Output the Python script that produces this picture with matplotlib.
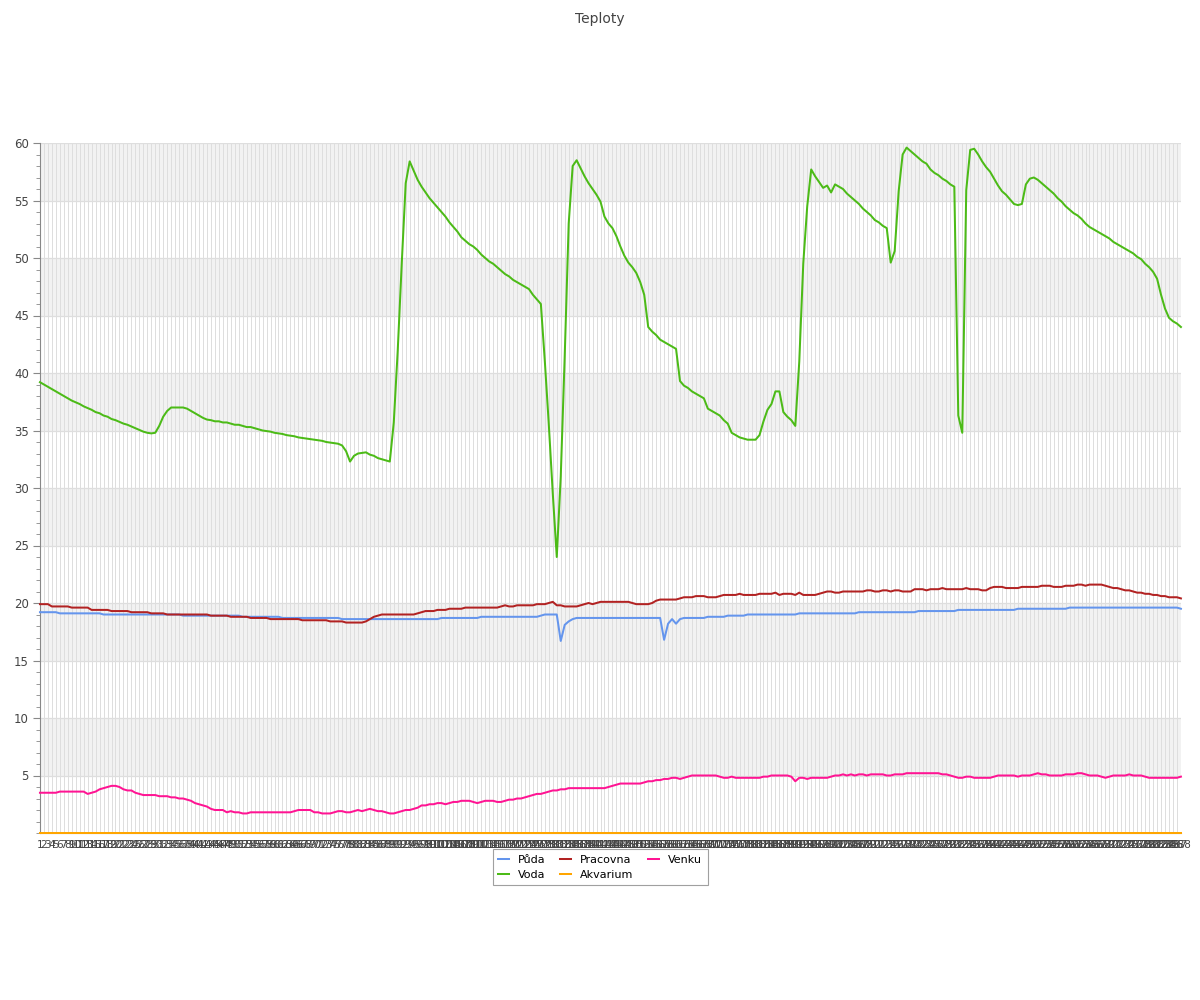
import matplotlib
matplotlib.use("Agg")
import matplotlib.pyplot as plt
from matplotlib.ticker import MultipleLocator

title = "Teploty"
x_labels = [str(n) for n in range(1, 289)]

puda = [
    19.2, 19.2, 19.2, 19.2, 19.2, 19.1, 19.1, 19.1, 19.1, 19.1,
    19.1, 19.1, 19.1, 19.1, 19.1, 19.1, 19.0, 19.0, 19.0, 19.0,
    19.0, 19.0, 19.0, 19.0, 19.0, 19.0, 19.0, 19.0, 19.0, 19.0,
    19.0, 19.0, 19.0, 19.0, 19.0, 19.0, 18.9, 18.9, 18.9, 18.9,
    18.9, 18.9, 18.9, 18.9, 18.9, 18.9, 18.9, 18.9, 18.9, 18.9,
    18.9, 18.8, 18.8, 18.8, 18.8, 18.8, 18.8, 18.8, 18.8, 18.8,
    18.8, 18.7, 18.7, 18.7, 18.7, 18.7, 18.7, 18.7, 18.7, 18.7,
    18.7, 18.7, 18.7, 18.7, 18.7, 18.7, 18.6, 18.6, 18.6, 18.6,
    18.6, 18.6, 18.6, 18.6, 18.6, 18.6, 18.6, 18.6, 18.6, 18.6,
    18.6, 18.6, 18.6, 18.6, 18.6, 18.6, 18.6, 18.6, 18.6, 18.6,
    18.6, 18.7, 18.7, 18.7, 18.7, 18.7, 18.7, 18.7, 18.7, 18.7,
    18.7, 18.8, 18.8, 18.8, 18.8, 18.8, 18.8, 18.8, 18.8, 18.8,
    18.8, 18.8, 18.8, 18.8, 18.8, 18.8, 18.9, 19.0, 19.0, 19.0,
    19.0, 16.7, 18.1, 18.4, 18.6, 18.7, 18.7, 18.7, 18.7, 18.7,
    18.7, 18.7, 18.7, 18.7, 18.7, 18.7, 18.7, 18.7, 18.7, 18.7,
    18.7, 18.7, 18.7, 18.7, 18.7, 18.7, 18.7, 16.8, 18.2, 18.6,
    18.2, 18.6, 18.7, 18.7, 18.7, 18.7, 18.7, 18.7, 18.8, 18.8,
    18.8, 18.8, 18.8, 18.9, 18.9, 18.9, 18.9, 18.9, 19.0, 19.0,
    19.0, 19.0, 19.0, 19.0, 19.0, 19.0, 19.0, 19.0, 19.0, 19.0,
    19.0, 19.1, 19.1, 19.1, 19.1, 19.1, 19.1, 19.1, 19.1, 19.1,
    19.1, 19.1, 19.1, 19.1, 19.1, 19.1, 19.2, 19.2, 19.2, 19.2,
    19.2, 19.2, 19.2, 19.2, 19.2, 19.2, 19.2, 19.2, 19.2, 19.2,
    19.2, 19.3, 19.3, 19.3, 19.3, 19.3, 19.3, 19.3, 19.3, 19.3,
    19.3, 19.4, 19.4, 19.4, 19.4, 19.4, 19.4, 19.4, 19.4, 19.4,
    19.4, 19.4, 19.4, 19.4, 19.4, 19.4, 19.5, 19.5, 19.5, 19.5,
    19.5, 19.5, 19.5, 19.5, 19.5, 19.5, 19.5, 19.5, 19.5, 19.6,
    19.6, 19.6, 19.6, 19.6, 19.6, 19.6, 19.6, 19.6, 19.6, 19.6,
    19.6, 19.6, 19.6, 19.6, 19.6, 19.6, 19.6, 19.6, 19.6, 19.6,
    19.6, 19.6, 19.6, 19.6, 19.6, 19.6, 19.6, 19.5,
]

voda = [
    39.2, 39.0, 38.8, 38.6, 38.4, 38.2, 38.0, 37.8, 37.6, 37.45,
    37.3, 37.1, 36.95, 36.8, 36.6, 36.5, 36.3, 36.2, 36.0, 35.9,
    35.75, 35.6, 35.5, 35.35, 35.2, 35.05, 34.9, 34.8, 34.75, 34.8,
    35.4, 36.2, 36.7, 37.0, 37.0, 37.0, 37.0, 36.9, 36.7, 36.5,
    36.3, 36.1, 35.95, 35.9, 35.8, 35.8, 35.7, 35.7, 35.6, 35.5,
    35.5, 35.4, 35.3, 35.3, 35.2, 35.1, 35.0, 34.95, 34.9, 34.8,
    34.75, 34.7, 34.6, 34.55, 34.5, 34.4, 34.35, 34.3, 34.25, 34.2,
    34.15, 34.1, 34.0, 33.95, 33.9, 33.85, 33.7, 33.2, 32.3, 32.8,
    33.0, 33.05, 33.1, 32.9, 32.8, 32.6, 32.5, 32.4, 32.3, 35.7,
    42.0, 49.5, 56.5, 58.4, 57.6, 56.8, 56.2, 55.7, 55.2, 54.8,
    54.4, 54.0, 53.6, 53.1, 52.7, 52.3, 51.8, 51.5, 51.2, 51.0,
    50.7, 50.3, 50.0, 49.7, 49.5, 49.2, 48.9, 48.6, 48.4, 48.1,
    47.9, 47.7, 47.5, 47.3, 46.8, 46.4, 46.0, 41.0, 35.5, 29.5,
    24.0, 31.0, 41.5, 53.0, 58.0, 58.5, 57.8, 57.1, 56.5, 56.0,
    55.5, 54.9, 53.6, 53.0, 52.6, 51.9, 51.0, 50.2, 49.6, 49.2,
    48.7, 47.9, 46.8, 44.0, 43.6, 43.3, 42.9, 42.7, 42.5, 42.3,
    42.1, 39.3, 38.9, 38.7, 38.4, 38.2, 38.0, 37.8, 36.9, 36.7,
    36.5, 36.3, 35.9, 35.6, 34.8, 34.6, 34.4, 34.3, 34.2, 34.2,
    34.2, 34.6, 35.8, 36.8, 37.3, 38.4, 38.4, 36.6, 36.2, 35.9,
    35.4, 41.0, 49.5, 54.5, 57.7, 57.1, 56.6, 56.1, 56.3, 55.7,
    56.4, 56.2, 56.0, 55.6, 55.3, 55.0, 54.7, 54.3, 54.0, 53.7,
    53.3, 53.1, 52.8, 52.6, 49.6, 50.6, 55.8, 59.0, 59.6, 59.3,
    59.0, 58.7, 58.4, 58.2, 57.7, 57.4, 57.2, 56.9, 56.7, 56.4,
    56.2, 36.3, 34.8, 55.9, 59.4, 59.5, 59.0, 58.4, 57.9, 57.5,
    56.9, 56.3, 55.8, 55.5, 55.1, 54.7, 54.6, 54.7, 56.4, 56.9,
    57.0, 56.8, 56.5, 56.2, 55.9, 55.6, 55.2, 54.9, 54.5, 54.2,
    53.9, 53.7, 53.4, 53.0, 52.7, 52.5, 52.3, 52.1, 51.9, 51.7,
    51.4, 51.2, 51.0, 50.8, 50.6, 50.4, 50.1, 49.9, 49.5, 49.2,
    48.8, 48.2, 46.8, 45.6, 44.8, 44.5, 44.3, 44.0,
]

pracovna = [
    19.9, 19.9, 19.9, 19.7, 19.7, 19.7, 19.7, 19.7, 19.6, 19.6,
    19.6, 19.6, 19.6, 19.4, 19.4, 19.4, 19.4, 19.4, 19.3, 19.3,
    19.3, 19.3, 19.3, 19.2, 19.2, 19.2, 19.2, 19.2, 19.1, 19.1,
    19.1, 19.1, 19.0, 19.0, 19.0, 19.0, 19.0, 19.0, 19.0, 19.0,
    19.0, 19.0, 19.0, 18.9, 18.9, 18.9, 18.9, 18.9, 18.8, 18.8,
    18.8, 18.8, 18.8, 18.7, 18.7, 18.7, 18.7, 18.7, 18.6, 18.6,
    18.6, 18.6, 18.6, 18.6, 18.6, 18.6, 18.5, 18.5, 18.5, 18.5,
    18.5, 18.5, 18.5, 18.4, 18.4, 18.4, 18.4, 18.3, 18.3, 18.3,
    18.3, 18.3, 18.4, 18.6, 18.8, 18.9, 19.0, 19.0, 19.0, 19.0,
    19.0, 19.0, 19.0, 19.0, 19.0, 19.1, 19.2, 19.3, 19.3, 19.3,
    19.4, 19.4, 19.4, 19.5, 19.5, 19.5, 19.5, 19.6, 19.6, 19.6,
    19.6, 19.6, 19.6, 19.6, 19.6, 19.6, 19.7, 19.8, 19.7, 19.7,
    19.8, 19.8, 19.8, 19.8, 19.8, 19.9, 19.9, 19.9, 20.0, 20.1,
    19.8, 19.8, 19.7, 19.7, 19.7, 19.7, 19.8, 19.9, 20.0, 19.9,
    20.0, 20.1, 20.1, 20.1, 20.1, 20.1, 20.1, 20.1, 20.1, 20.0,
    19.9, 19.9, 19.9, 19.9, 20.0, 20.2, 20.3, 20.3, 20.3, 20.3,
    20.3, 20.4, 20.5, 20.5, 20.5, 20.6, 20.6, 20.6, 20.5, 20.5,
    20.5, 20.6, 20.7, 20.7, 20.7, 20.7, 20.8, 20.7, 20.7, 20.7,
    20.7, 20.8, 20.8, 20.8, 20.8, 20.9, 20.7, 20.8, 20.8, 20.8,
    20.7, 20.9, 20.7, 20.7, 20.7, 20.7, 20.8, 20.9, 21.0, 21.0,
    20.9, 20.9, 21.0, 21.0, 21.0, 21.0, 21.0, 21.0, 21.1, 21.1,
    21.0, 21.0, 21.1, 21.1, 21.0, 21.1, 21.1, 21.0, 21.0, 21.0,
    21.2, 21.2, 21.2, 21.1, 21.2, 21.2, 21.2, 21.3, 21.2, 21.2,
    21.2, 21.2, 21.2, 21.3, 21.2, 21.2, 21.2, 21.1, 21.1, 21.3,
    21.4, 21.4, 21.4, 21.3, 21.3, 21.3, 21.3, 21.4, 21.4, 21.4,
    21.4, 21.4, 21.5, 21.5, 21.5, 21.4, 21.4, 21.4, 21.5, 21.5,
    21.5, 21.6, 21.6, 21.5, 21.6, 21.6, 21.6, 21.6, 21.5, 21.4,
    21.3, 21.3, 21.2, 21.1, 21.1, 21.0, 20.9, 20.9, 20.8, 20.8,
    20.7, 20.7, 20.6, 20.6, 20.5, 20.5, 20.5, 20.4,
]

akvarium = [
    0, 0, 0, 0, 0, 0, 0, 0, 0, 0, 0, 0, 0, 0, 0, 0, 0, 0, 0, 0, 0, 0, 0, 0, 0, 0, 0, 0, 0, 0, 0, 0, 0, 0, 0, 0,
    0, 0, 0, 0, 0, 0, 0, 0, 0, 0, 0, 0, 0, 0, 0, 0, 0, 0, 0, 0, 0, 0, 0, 0, 0, 0, 0, 0, 0, 0, 0, 0, 0, 0, 0, 0,
    0, 0, 0, 0, 0, 0, 0, 0, 0, 0, 0, 0, 0, 0, 0, 0, 0, 0, 0, 0, 0, 0, 0, 0, 0, 0, 0, 0, 0, 0, 0, 0, 0, 0, 0, 0,
    0, 0, 0, 0, 0, 0, 0, 0, 0, 0, 0, 0, 0, 0, 0, 0, 0, 0, 0, 0, 0, 0, 0, 0, 0, 0, 0, 0, 0, 0, 0, 0, 0, 0, 0, 0,
    0, 0, 0, 0, 0, 0, 0, 0, 0, 0, 0, 0, 0, 0, 0, 0, 0, 0, 0, 0, 0, 0, 0, 0, 0, 0, 0, 0, 0, 0, 0, 0, 0, 0, 0, 0,
    0, 0, 0, 0, 0, 0, 0, 0, 0, 0, 0, 0, 0, 0, 0, 0, 0, 0, 0, 0, 0, 0, 0, 0, 0, 0, 0, 0, 0, 0, 0, 0, 0, 0, 0, 0,
    0, 0, 0, 0, 0, 0, 0, 0, 0, 0, 0, 0, 0, 0, 0, 0, 0, 0, 0, 0, 0, 0, 0, 0, 0, 0, 0, 0, 0, 0, 0, 0, 0, 0, 0, 0,
    0, 0, 0, 0, 0, 0, 0, 0, 0, 0, 0, 0, 0, 0, 0, 0, 0, 0, 0, 0, 0, 0, 0, 0, 0, 0, 0, 0, 0, 0, 0, 0, 0, 0, 0, 0,
]

venku = [
    3.5, 3.5, 3.5, 3.5, 3.5, 3.6, 3.6, 3.6, 3.6, 3.6,
    3.6, 3.6, 3.4, 3.5, 3.6, 3.8, 3.9, 4.0, 4.1, 4.1,
    4.0, 3.8, 3.7, 3.7, 3.5, 3.4, 3.3, 3.3, 3.3, 3.3,
    3.2, 3.2, 3.2, 3.1, 3.1, 3.0, 3.0, 2.9, 2.8, 2.6,
    2.5, 2.4, 2.3, 2.1, 2.0, 2.0, 2.0, 1.8, 1.9, 1.8,
    1.8, 1.7, 1.7, 1.8, 1.8, 1.8, 1.8, 1.8, 1.8, 1.8,
    1.8, 1.8, 1.8, 1.8, 1.9, 2.0, 2.0, 2.0, 2.0, 1.8,
    1.8, 1.7, 1.7, 1.7, 1.8, 1.9, 1.9, 1.8, 1.8, 1.9,
    2.0, 1.9, 2.0, 2.1, 2.0, 1.9, 1.9, 1.8, 1.7, 1.7,
    1.8, 1.9, 2.0, 2.0, 2.1, 2.2, 2.4, 2.4, 2.5, 2.5,
    2.6, 2.6, 2.5, 2.6, 2.7, 2.7, 2.8, 2.8, 2.8, 2.7,
    2.6, 2.7, 2.8, 2.8, 2.8, 2.7, 2.7, 2.8, 2.9, 2.9,
    3.0, 3.0, 3.1, 3.2, 3.3, 3.4, 3.4, 3.5, 3.6, 3.7,
    3.7, 3.8, 3.8, 3.9, 3.9, 3.9, 3.9, 3.9, 3.9, 3.9,
    3.9, 3.9, 3.9, 4.0, 4.1, 4.2, 4.3, 4.3, 4.3, 4.3,
    4.3, 4.3, 4.4, 4.5, 4.5, 4.6, 4.6, 4.7, 4.7, 4.8,
    4.8, 4.7, 4.8, 4.9, 5.0, 5.0, 5.0, 5.0, 5.0, 5.0,
    5.0, 4.9, 4.8, 4.8, 4.9, 4.8, 4.8, 4.8, 4.8, 4.8,
    4.8, 4.8, 4.9, 4.9, 5.0, 5.0, 5.0, 5.0, 5.0, 4.9,
    4.5, 4.8, 4.8, 4.7, 4.8, 4.8, 4.8, 4.8, 4.8, 4.9,
    5.0, 5.0, 5.1, 5.0, 5.1, 5.0, 5.1, 5.1, 5.0, 5.1,
    5.1, 5.1, 5.1, 5.0, 5.0, 5.1, 5.1, 5.1, 5.2, 5.2,
    5.2, 5.2, 5.2, 5.2, 5.2, 5.2, 5.2, 5.1, 5.1, 5.0,
    4.9, 4.8, 4.8, 4.9, 4.9, 4.8, 4.8, 4.8, 4.8, 4.8,
    4.9, 5.0, 5.0, 5.0, 5.0, 5.0, 4.9, 5.0, 5.0, 5.0,
    5.1, 5.2, 5.1, 5.1, 5.0, 5.0, 5.0, 5.0, 5.1, 5.1,
    5.1, 5.2, 5.2, 5.1, 5.0, 5.0, 5.0, 4.9, 4.8, 4.9,
    5.0, 5.0, 5.0, 5.0, 5.1, 5.0, 5.0, 5.0, 4.9, 4.8,
    4.8, 4.8, 4.8, 4.8, 4.8, 4.8, 4.8, 4.9,
]

series_names = ["Půda", "Voda", "Pracovna", "Akvarium", "Venku"]
series_colors = ["#6495ed", "#4cbb17", "#b22222", "#ffa500", "#ff1493"]
series_values = [puda, voda, pracovna, akvarium, venku]

y_ticks = [5, 10, 15, 20, 25, 30, 35, 40, 45, 50, 55, 60]
band_starts = [5, 15, 25, 35, 45, 55]

plt.rcParams["font.family"] = ["DejaVu Sans"]
fig = plt.figure(figsize=(12, 10), dpi=100)
ax = fig.add_axes([0.0333, 0.167, 0.9508, 0.69])

n = len(x_labels)
xs = list(range(n))

for b in band_starts:
    ax.axhspan(b, b + 5, color="#f2f2f2", zorder=0, lw=0)

for xv in xs:
    ax.axvline(xv, color="#dedede", lw=0.72, zorder=1)
for yv in y_ticks:
    ax.axhline(yv, color="#dedede", lw=0.9, zorder=1)

handles = []
for name, col, vals in zip(series_names, series_colors, series_values):
    h, = ax.plot(xs, vals, color=col, lw=1.45, label=name, zorder=3,
                 clip_on=False, solid_joinstyle="round")
    handles.append(h)

ax.set_xlim(0, n - 1)
ax.set_ylim(0, 60)
ax.set_xticks(xs)
ax.set_xticklabels(x_labels, fontsize=7.5, color="#444444")
ax.tick_params(axis="x", length=0, pad=5)
ax.set_yticks(y_ticks)
ax.set_yticklabels([str(t) for t in y_ticks], fontsize=8.5, color="#444444")
ax.yaxis.set_minor_locator(MultipleLocator(1))
ax.tick_params(axis="y", which="major", length=5, color="#888888", pad=3)
ax.tick_params(axis="y", which="minor", length=3, color="#888888")

for s in ["top", "right"]:
    ax.spines[s].set_visible(False)
ax.spines["left"].set_color("#888888")
ax.spines["bottom"].set_color("#888888")

fig.text(0.5, 0.988, title, ha="center", va="top", fontsize=10, color="#444444")

leg = fig.legend(handles=handles, labels=series_names, loc="upper center",
                 bbox_to_anchor=(0.5, 0.1565), ncol=3, fontsize=8,
                 frameon=True, fancybox=False, handlelength=1.0,
                 handletextpad=0.8, columnspacing=1.3, borderpad=0.5,
                 labelspacing=0.45)
leg.get_frame().set_edgecolor("#888888")
leg.get_frame().set_linewidth(0.8)
leg.get_frame().set_boxstyle("square", pad=0.0)

fig.savefig("out.png", dpi=100)
